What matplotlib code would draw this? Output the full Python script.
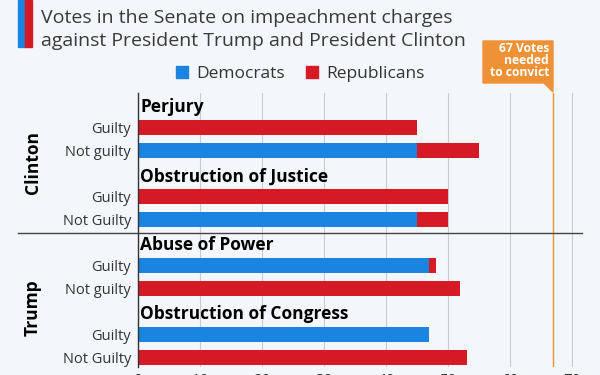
import matplotlib
matplotlib.use("Agg")
import matplotlib.pyplot as plt
from matplotlib.lines import Line2D
from matplotlib.patches import Polygon
import matplotlib.transforms as mtransforms

# data
presidents = ["Clinton", "Trump"]
charges = ["Perjury", "Obstruction of Justice", "Abuse of Power", "Obstruction of Congress"]
outcomes = ["Guilty", "Not guilty", "Guilty", "Not Guilty",
            "Guilty", "Not guilty", "Guilty", "Not Guilty"]
democrats = [0, 45, 0, 45, 47, 0, 47, 0]
republicans = [45, 10, 50, 5, 1, 52, 0, 53]
needed = 67
xticks = [0, 10, 20, 30, 40, 50, 60, 70]

BLUE = "#1a84e0"
RED = "#d51a26"
ORANGE = "#ef9135"
BG = "#f3f6fa"
TEXT = "#333333"

plt.rcParams["font.family"] = ["Open Sans", "DejaVu Sans"]

W, H = 600, 375
fig = plt.figure(figsize=(6, 3.75), dpi=100, facecolor=BG)

def fx(px):
    return px / W

def fy(py):
    return 1 - py / H

# axes in pixel box: left 138, right 582, top 93, bottom 367
ax = fig.add_axes([fx(138), fy(367), fx(582 - 138), (367 - 93) / H])
ax.set_facecolor(BG)

# slot layout: charge label row then two bar rows per charge
ypos = []
for i in range(len(charges)):
    ypos += [3 * i + 1, 3 * i + 2]

ax.barh(ypos, democrats, height=0.66, color=BLUE, zorder=3)
ax.barh(ypos, republicans, left=democrats, height=0.66, color=RED, zorder=3)

for i, c in enumerate(charges):
    ax.text(0.4, 3 * i + 0.12, c, fontsize=12.5, fontweight="bold", color="black",
            va="center", ha="left", zorder=4)

ax.set_xlim(0, 71.6)
ax.set_ylim(11.41, -0.5)
ax.set_xticks(xticks)
ax.set_yticks(ypos)
ax.set_yticklabels(outcomes, fontsize=10.5, color=TEXT)
ax.tick_params(axis="y", length=0, pad=5)
ax.tick_params(axis="x", length=0, pad=4, labelsize=11, labelcolor=TEXT)
ax.grid(axis="x", color="#c9cdd3", linewidth=0.8, zorder=0)
for s in ["top", "right", "bottom"]:
    ax.spines[s].set_visible(False)
ax.spines["left"].set_color("#333333")
ax.spines["left"].set_linewidth(1)
ax.spines["left"].set_zorder(5)

ax.axvline(needed, color=ORANGE, linewidth=1, zorder=2)

# separator between presidents
trans = mtransforms.blended_transform_factory(ax.transAxes, ax.transData)
ax.plot([(18 - 138) / 444, 1], [5.59, 5.59], transform=trans, color="#444444",
        linewidth=1, clip_on=False, zorder=5)

# president labels
fig.text(fx(33), fy(163), presidents[0], rotation=90, fontsize=12.5, fontweight="bold",
         color="black", ha="center", va="center")
fig.text(fx(33), fy(308), presidents[1], rotation=90, fontsize=12.5, fontweight="bold",
         color="black", ha="center", va="center")

# title with colour bar
fig.patches.append(plt.Rectangle((fx(18), fy(47)), fx(7), 47 / H, color=BLUE,
                                 transform=fig.transFigure, figure=fig))
fig.patches.append(plt.Rectangle((fx(25), fy(47)), fx(7), 47 / H, color=RED,
                                 transform=fig.transFigure, figure=fig))
fig.text(fx(41), fy(23), "Votes in the Senate on impeachment charges",
         fontsize=14, color="#3a3a3a", va="baseline", ha="left")
fig.text(fx(41), fy(46), "against President Trump and President Clinton",
         fontsize=14, color="#3a3a3a", va="baseline", ha="left")

# legend
handles = [Line2D([], [], marker="s", linestyle="none", markersize=9, color=BLUE),
           Line2D([], [], marker="s", linestyle="none", markersize=9, color=RED)]
fig.legend(handles, ["Democrats", "Republicans"], loc="center",
           bbox_to_anchor=(fx(300), fy(74)), ncol=2, frameon=False, fontsize=12.5,
           handlelength=0.8, handletextpad=0.4, columnspacing=1.2, labelcolor=TEXT)

# orange annotation box
box = Polygon([(fx(483), fy(41)), (fx(553), fy(41)), (fx(553), fy(92)),
               (fx(544), fy(83)), (fx(483), fy(83))], closed=True,
              color=ORANGE, transform=fig.transFigure)
fig.patches.append(box)
for text, py in [("67 Votes", 49), ("needed", 61), ("to convict", 73)]:
    fig.text(fx(549), fy(py), text, fontsize=8.7, fontweight="bold", color="white",
             ha="right", va="center")

fig.savefig("out.png", dpi=100, facecolor=BG)
